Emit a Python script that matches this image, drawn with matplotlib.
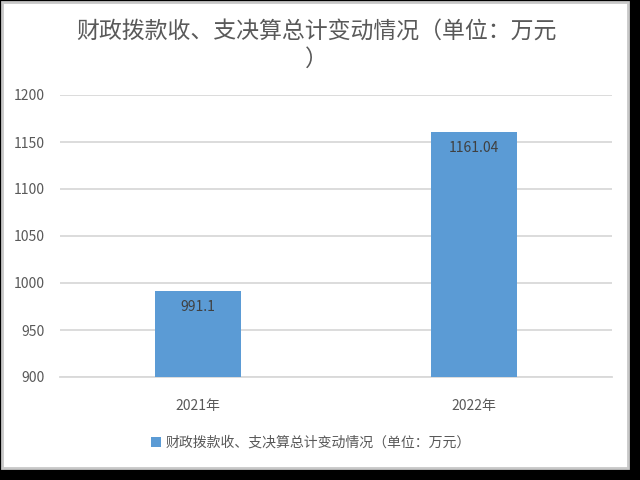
import matplotlib
matplotlib.use("Agg")
import matplotlib.pyplot as plt
from matplotlib.patches import Rectangle

plt.rcParams['font.family'] = ['Noto Sans CJK SC', 'DejaVu Sans']

categories = ['2021年', '2022年']
values = [991.1, 1161.04]
value_labels = ['991.1', '1161.04']
series_name = '财政拨款收、支决算总计变动情况（单位：万元）'
title_text = '财政拨款收、支决算总计变动情况（单位：万元\n）'
yticks = [900, 950, 1000, 1050, 1100, 1150, 1200]

fig = plt.figure(figsize=(6.4, 4.8), dpi=100)
fig.patch.set_facecolor('black')

# white chart canvas with a thin grey frame, kept behind the axes
fig.patches.append(Rectangle((2 / 640, 12 / 480), 626 / 640, 466 / 480,
                             transform=fig.transFigure, facecolor='white',
                             edgecolor='#C8C8C8', linewidth=2, zorder=-5))

ax = fig.add_axes([60 / 640, 1 - 377 / 480, 552 / 640, 282 / 480])
ax.set_facecolor('none')

x = list(range(len(categories)))
bars = ax.bar(x, values, width=0.31, color='#5B9BD5', zorder=3, label=series_name)

ax.set_ylim(900, 1200)
ax.set_xlim(-0.5, 1.5)
ax.set_yticks(yticks)
ax.set_xticks(x)
ax.set_xticklabels(categories)
ax.tick_params(axis='both', length=0, labelsize=10, colors='#595959')
ax.tick_params(axis='y', pad=11)
ax.tick_params(axis='x', pad=16)
ax.grid(axis='y', color='#D9D9D9', linewidth=1.3, zorder=0)
for s in ['top', 'right', 'left']:
    ax.spines[s].set_visible(False)
ax.spines['bottom'].set_color('#D9D9D9')
ax.spines['bottom'].set_linewidth(1.3)

for b, lab in zip(bars, value_labels):
    ax.text(b.get_x() + b.get_width() / 2, b.get_height() - 17, lab,
            ha='center', va='center', fontsize=10, color='#404040', zorder=4)

fig.text(0.495, 0.906, title_text, ha='center', va='center', fontsize=16.5,
         color='#595959', linespacing=1.25)

leg = fig.legend(handles=[bars], labels=[series_name], loc='center',
                 bbox_to_anchor=(0.486, 0.078), frameon=False, fontsize=10,
                 handlelength=0.7, handleheight=0.7, handletextpad=0.3)
for t in leg.get_texts():
    t.set_color('#595959')

fig.savefig('out.png', dpi=100, facecolor=fig.get_facecolor())
